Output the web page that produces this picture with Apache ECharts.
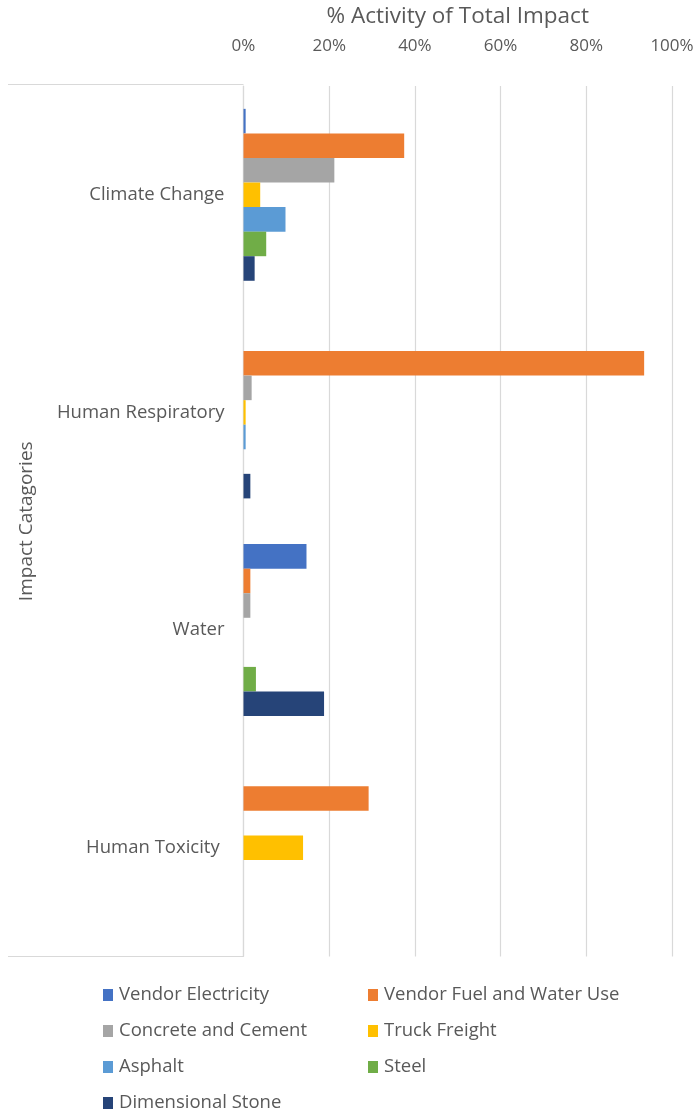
<!DOCTYPE html>
<html>
<head>
<meta charset="utf-8">
<script src="https://cdn.jsdelivr.net/npm/echarts@6/dist/echarts.min.js"></script>
<style>
  html, body { margin: 0; padding: 0; background: #ffffff; }
  #chart { width: 699px; height: 1113px; }
</style>
</head>
<body>
<div id="chart"></div>
<script>
// Impact categories (top to bottom)
const categories = ['Climate Change', 'Human Respiratory', 'Water', 'Human Toxicity '];

// Share of total impact per activity, in percent, one value per category
const vendorElectricity = [0.5, 0, 14.7, 0];
const vendorFuelWater   = [37.5, 93.5, 1.6, 29.2];
const concreteCement    = [21.2, 1.9, 1.6, 0];
const truckFreight      = [3.9, 0.5, 0, 13.9];
const asphalt           = [9.8, 0.5, 0, 0];
const steel             = [5.3, 0, 2.9, 0];
const dimensionalStone  = [2.6, 1.6, 18.8, 0];

const seriesNames = [
  'Vendor Electricity', 'Vendor Fuel and Water Use', 'Concrete and Cement',
  'Truck Freight', 'Asphalt', 'Steel', 'Dimensional Stone'
];
const seriesValues = [
  vendorElectricity, vendorFuelWater, concreteCement,
  truckFreight, asphalt, steel, dimensionalStone
];
const seriesColors = ['#4472C4', '#ED7D31', '#A5A5A5', '#FFC000', '#5B9BD5', '#70AD47', '#264478'];

const xTicks = [0, 20, 40, 60, 80, 100];

const FONT = '"Open Sans", Lato, sans-serif';
const TEXT = '#595959';
const LINE = '#d9d9d9';

const GRID = { left: 243.5, right: 27, top: 84.5, bottom: 156.5 };
const H = 1113;

const chart = echarts.init(document.getElementById('chart'), null, { renderer: 'canvas' });

chart.setOption({
  backgroundColor: '#ffffff',
  animation: false,
  textStyle: { fontFamily: FONT, color: TEXT },
  grid: GRID,
  xAxis: {
    type: 'value',
    position: 'top',
    min: xTicks[0],
    max: xTicks[xTicks.length - 1],
    interval: xTicks[1] - xTicks[0],
    name: '% Activity of Total Impact',
    nameLocation: 'middle',
    nameGap: 58,
    nameTextStyle: { fontFamily: FONT, fontSize: 22.5, color: TEXT },
    axisLine: { show: false },
    axisTick: { show: false },
    axisLabel: {
      formatter: v => v + '%',
      fontFamily: FONT, fontSize: 17, color: TEXT, margin: 31
    },
    splitLine: { show: true, lineStyle: { color: LINE, width: 1.2 } }
  },
  yAxis: {
    type: 'category',
    data: categories,
    inverse: true,
    name: 'Impact Catagories',
    nameLocation: 'middle',
    nameGap: 207,
    nameTextStyle: { fontFamily: FONT, fontSize: 19, color: TEXT },
    axisLine: { show: true, lineStyle: { color: LINE, width: 1.2 } },
    axisTick: { show: false },
    axisLabel: { fontFamily: FONT, fontSize: 18.5, color: TEXT, margin: 19 },
    splitLine: { show: false }
  },
  legend: {
    left: 98,
    top: 980,
    width: 540,
    orient: 'horizontal',
    itemWidth: 10,
    itemHeight: 12,
    itemGap: 16,
    icon: 'rect',
    data: seriesNames,
    textStyle: {
      fontFamily: FONT, fontSize: 18.5, color: TEXT,
      width: 233, lineHeight: 20, padding: [0, 0, 0, 1]
    }
  },
  series: seriesNames.map((name, i) => ({
    name: name,
    type: 'bar',
    data: seriesValues[i],
    barGap: '0%',
    barCategoryGap: '21%',
    itemStyle: { color: seriesColors[i] }
  })),
  // Bracket lines framing the category label area
  graphic: [
    {
      type: 'line', silent: true,
      shape: { x1: 8, y1: GRID.top, x2: GRID.left, y2: GRID.top },
      style: { stroke: LINE, lineWidth: 1.2 }
    },
    {
      type: 'line', silent: true,
      shape: { x1: 8, y1: H - GRID.bottom, x2: GRID.left, y2: H - GRID.bottom },
      style: { stroke: LINE, lineWidth: 1.2 }
    }
  ]
});
</script>
</body>
</html>
